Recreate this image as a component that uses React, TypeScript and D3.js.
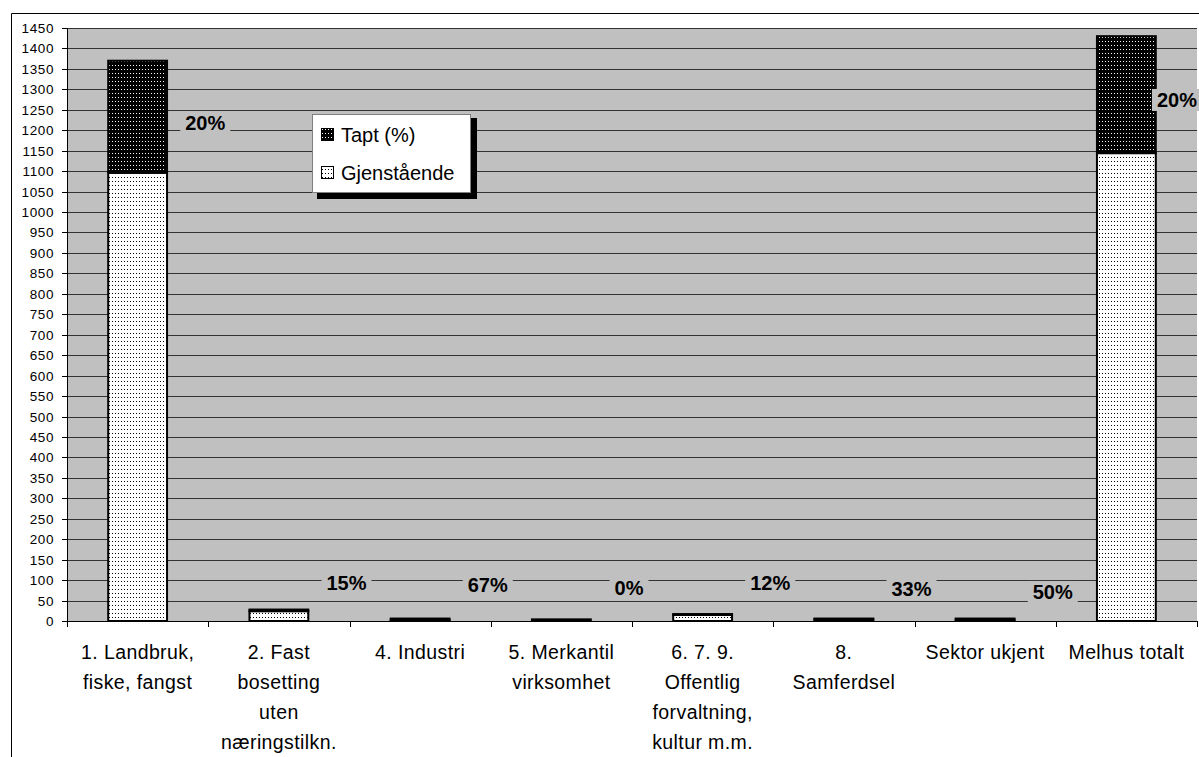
import * as d3 from "d3";

// sectors along the x axis (one entry per line of the label)
const categories: string[][] = [
  ["1. Landbruk,", "fiske, fangst"],
  ["2. Fast", "bosetting", "uten", "næringstilkn."],
  ["4. Industri"],
  ["5. Merkantil", "virksomhet"],
  ["6. 7. 9.", "Offentlig", "forvaltning,", "kultur m.m."],
  ["8.", "Samferdsel"],
  ["Sektor ukjent"],
  ["Melhus totalt"],
];

// stacked series
const remaining = [1096, 24, 2, 4, 15, 4, 3, 1144];
const lost = [274, 4, 4, 0, 2, 2, 3, 286];

// percentage labels and the height (in axis units) they sit at
const pctLabels = ["20%", "15%", "67%", "0%", "12%", "33%", "50%", "20%"];
const pctLabelAt = [1218, 93, 88, 81, 93, 78, 71, 1274];

const yTicks = d3.range(0, 1451, 50);

const FONT = "'Liberation Sans', Arial, sans-serif";

export default function App() {
  const W = 1199;
  const H = 757;
  const plot = { left: 67, right: 1197, top: 28, bottom: 621 };

  const x = d3
    .scaleBand<number>()
    .domain(d3.range(categories.length))
    .range([plot.left, plot.right])
    .padding(0);
  const y = d3.scaleLinear().domain([0, 1450]).range([plot.bottom, plot.top]);

  const bw = x.bandwidth() / 2.4;

  const labelWidth = (s: string) =>
    s.replace("%", "").length * 11.1 + 17.8;

  return (
    <div style={{ position: "absolute", left: 0, top: 0 }}>
      <svg width={W} height={H} style={{ display: "block", background: "#fff" }}>
        <defs>
          <pattern id="dark" width={3} height={4} patternUnits="userSpaceOnUse">
            <rect width={3} height={4} fill="#000" />
            <rect x={1} y={1} width={1} height={1} fill="#fff" />
          </pattern>
          <pattern id="light" width={3} height={4} patternUnits="userSpaceOnUse">
            <rect width={3} height={4} fill="#fff" />
            <rect x={1} y={1} width={1} height={1} fill="#000" />
          </pattern>
        </defs>

        {/* outer chart frame */}
        <path d={`M11.5,${H} V13.5 H${W}`} fill="none" stroke="#000" strokeWidth={1} />

        {/* plot area */}
        <rect
          x={plot.left}
          y={plot.top}
          width={plot.right - plot.left}
          height={plot.bottom - plot.top}
          fill="#c0c0c0"
        />

        {/* gridlines */}
        {yTicks
          .filter((t) => t > 0)
          .map((t) => (
            <line
              key={t}
              x1={plot.left}
              x2={plot.right}
              y1={Math.round(y(t)) + 0.5}
              y2={Math.round(y(t)) + 0.5}
              stroke="#333"
              strokeWidth={1.2}
            />
          ))}

        {/* bars */}
        {categories.map((_, i) => {
          const cx = (x(i) as number) + x.bandwidth() / 2;
          const g = remaining[i];
          const t = lost[i];
          return (
            <g key={i}>
              {g > 0 && (
                <rect
                  x={cx - bw / 2}
                  y={y(g)}
                  width={bw}
                  height={y(0) - y(g)}
                  fill="url(#light)"
                  stroke="#000"
                  strokeWidth={2}
                />
              )}
              {t > 0 && (
                <rect
                  x={cx - bw / 2}
                  y={y(g + t)}
                  width={bw}
                  height={y(g) - y(g + t)}
                  fill="url(#dark)"
                  stroke="#000"
                  strokeWidth={2}
                />
              )}
            </g>
          );
        })}

        {/* percentage labels */}
        {pctLabels.map((s, i) => {
          const w = labelWidth(s);
          let cx = (x(i) as number) + x.bandwidth() - 3;
          cx = Math.min(cx, plot.right - w / 2);
          const cy = y(pctLabelAt[i]);
          return (
            <g key={i}>
              <rect x={cx - w / 2 - 5} y={cy - 11} width={w + 10} height={22} fill="#c0c0c0" />
              <text
                x={cx}
                y={cy + 7}
                textAnchor="middle"
                fontFamily={FONT}
                fontWeight="bold"
                fontSize={20}
                fill="#000"
              >
                {s}
              </text>
            </g>
          );
        })}

        {/* y axis */}
        <line x1={plot.left + 0.5} x2={plot.left + 0.5} y1={plot.top} y2={plot.bottom} stroke="#000" />
        {yTicks.map((t) => (
          <g key={t}>
            <line
              x1={plot.left - 5}
              x2={plot.left}
              y1={Math.round(y(t)) + 0.5}
              y2={Math.round(y(t)) + 0.5}
              stroke="#000"
            />
            <text
              x={54}
              y={y(t) + 5}
              textAnchor="end"
              fontFamily={FONT}
              fontSize={13.5}
              letterSpacing={0.6}
              fill="#000"
            >
              {t}
            </text>
          </g>
        ))}

        {/* x axis */}
        <line x1={plot.left} x2={plot.right} y1={plot.bottom + 0.5} y2={plot.bottom + 0.5} stroke="#000" />
        {d3.range(categories.length + 1).map((i) => {
          const xx = Math.round(plot.left + i * x.bandwidth()) + 0.5;
          return <line key={i} x1={xx} x2={xx} y1={plot.bottom} y2={plot.bottom + 6} stroke="#000" />;
        })}
        {categories.map((lines, i) => {
          const cx = (x(i) as number) + x.bandwidth() / 2;
          return (
            <text key={i} textAnchor="middle" fontFamily={FONT} fontSize={19.5} letterSpacing={0.4} fill="#000">
              {lines.map((ln, j) => (
                <tspan key={j} x={cx} y={659 + j * 30}>
                  {ln}
                </tspan>
              ))}
            </text>
          );
        })}

        {/* legend */}
        <rect x={317} y={118} width={160} height={81} fill="#000" />
        <rect x={312.5} y={114.5} width={158} height={78} fill="#fff" stroke="#808080" />
        <rect x={321.5} y={128.5} width={12} height={12} fill="url(#dark)" stroke="#000" />
        <text x={341} y={142} fontFamily={FONT} fontSize={20} fill="#000">
          Tapt (%)
        </text>
        <rect x={321.5} y={166.5} width={12} height={12} fill="url(#light)" stroke="#000" />
        <text x={341} y={180} fontFamily={FONT} fontSize={20} fill="#000">
          Gjenstående
        </text>
      </svg>
    </div>
  );
}
